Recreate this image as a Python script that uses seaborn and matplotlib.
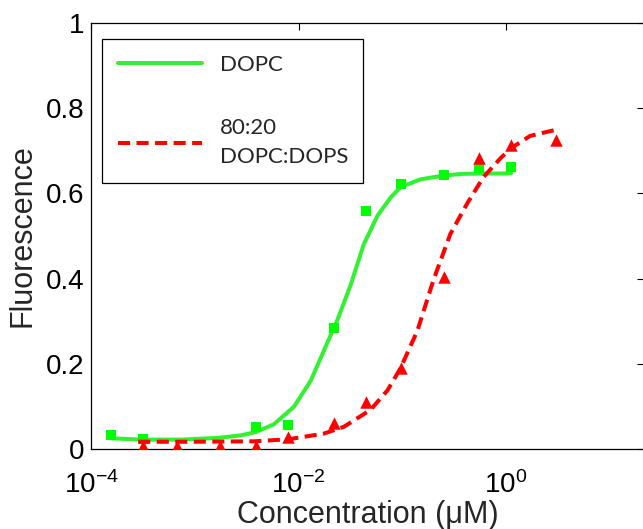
import numpy as np
import pandas as pd
import matplotlib
matplotlib.use("Agg")
import matplotlib.pyplot as plt
import seaborn as sns
from matplotlib.ticker import FixedLocator, NullLocator, LogFormatterSciNotation

# ---- data ----
dopc_conc = [1.57e-4, 3.16e-4, 3.86e-3, 8.0e-3, 0.0218, 0.0447, 0.0964, 0.251, 0.546, 1.12]
dopc_fluor = [0.034, 0.023, 0.052, 0.056, 0.283, 0.559, 0.621, 0.643, 0.659, 0.661]

dops_conc = [3.16e-4, 6.76e-4, 1.75e-3, 3.86e-3, 8.0e-3, 0.0218, 0.0447, 0.0964, 0.251, 0.546, 1.12, 3.04]
dops_fluor = [0.008, 0.008, 0.008, 0.008, 0.029, 0.061, 0.110, 0.190, 0.404, 0.683, 0.714, 0.725]

dopc_fit_conc = [1.57e-4, 3.11e-4, 7.38e-4, 1.67e-3, 2.79e-3, 3.89e-3, 5.79e-3, 9.02e-3, 0.0131,
                 0.0175, 0.0239, 0.0318, 0.0425, 0.0578, 0.0772, 0.0964, 0.150, 0.249, 0.389, 1.12]
dopc_fit_fluor = [0.025, 0.022, 0.022, 0.026, 0.032, 0.040, 0.058, 0.099, 0.160,
                  0.230, 0.305, 0.385, 0.480, 0.548, 0.590, 0.615, 0.633, 0.642, 0.646, 0.647]

dops_fit_conc = [2.85e-4, 9.2e-4, 3.72e-3, 8.07e-3, 0.0175, 0.0273, 0.0495, 0.0722, 0.0964,
                 0.140, 0.200, 0.291, 0.424, 0.605, 0.881, 1.10, 1.71, 2.98]
dops_fit_fluor = [0.017, 0.017, 0.018, 0.023, 0.036, 0.052, 0.092, 0.138, 0.190,
                  0.278, 0.397, 0.505, 0.577, 0.638, 0.682, 0.705, 0.735, 0.749]

series_labels = ["DOPC", "80:20\nDOPC:DOPS"]
x_ticks = [1e-4, 1e-2, 1e0, 1e2]
y_ticks = [0, 0.2, 0.4, 0.6, 0.8, 1]
y_tick_labels = ["0", "0.2", "0.4", "0.6", "0.8", "1"]

# ---- style ----
sns.set_style("white")
plt.rcParams["font.family"] = ["Liberation Sans", "DejaVu Sans"]
plt.rcParams["mathtext.default"] = "regular"

GREEN = "#00ff00"
GREEN_LINE = "#33f033"
RED = "#ff0000"

fig = plt.figure(figsize=(6.43, 5.29), dpi=100)
W, H = 643, 529
left_px, right_px, top_px, bottom_px = 91, 644, 23, 449
ax = fig.add_axes([left_px / W, 1 - bottom_px / H, (right_px - left_px) / W, (bottom_px - top_px) / H])

df_fit1 = pd.DataFrame({"c": dopc_fit_conc, "f": dopc_fit_fluor})
df_fit2 = pd.DataFrame({"c": dops_fit_conc, "f": dops_fit_fluor})
df_pts1 = pd.DataFrame({"c": dopc_conc, "f": dopc_fluor})
df_pts2 = pd.DataFrame({"c": dops_conc, "f": dops_fluor})

sns.lineplot(data=df_fit1, x="c", y="f", ax=ax, color=GREEN_LINE, linewidth=2.9,
             sort=True, estimator=None, zorder=2)
sns.scatterplot(data=df_pts1, x="c", y="f", ax=ax, color=GREEN, marker="s", s=60,
                linewidth=0, zorder=3)
sns.lineplot(data=df_fit2, x="c", y="f", ax=ax, color=RED, linewidth=2.9,
             linestyle=(0, (3.0, 1.6)), sort=True, estimator=None, zorder=4)
sns.scatterplot(data=df_pts2, x="c", y="f", ax=ax, color=RED, marker="^", s=80,
                linewidth=0, zorder=5)

ax.set_xscale("log")
ax.set_xlim(1e-4, 10 ** (-4 + (right_px - 89.7) / 104))
ax.set_ylim(0, 1)
ax.xaxis.set_major_locator(FixedLocator(x_ticks))
ax.xaxis.set_major_formatter(LogFormatterSciNotation())
ax.xaxis.set_minor_locator(NullLocator())
ax.set_yticks(y_ticks)
ax.set_yticklabels(y_tick_labels)

ax.tick_params(axis="both", which="major", direction="in", length=5, width=0.8,
               top=True, right=True, labelsize=20, colors="black", pad=5)
ax.tick_params(axis="x", pad=16)
for sp in ax.spines.values():
    sp.set_visible(True)
    sp.set_color("black")
    sp.set_linewidth(0.9)

ax.set_xlabel("Concentration (\u03bcM)", fontsize=22, labelpad=1)
ax.set_ylabel("Fluorescence", fontsize=22, labelpad=6)

# legend (lines only)
lines = ax.get_lines()
leg = ax.legend([lines[0], lines[1]], series_labels,
                loc="upper left", bbox_to_anchor=(0.0204, 0.0, 0.4714, 0.9617),
                mode="expand", borderaxespad=0, fancybox=False, framealpha=1,
                edgecolor="black", handlelength=3.8, handletextpad=0.78,
                borderpad=0.7, labelspacing=1.92,
                prop={"family": ["Lato", "DejaVu Sans"], "size": 16})
leg.get_frame().set_linewidth(0.9)
for t in leg.get_texts():
    t.set_linespacing(1.6)

fig.savefig("out.png", dpi=100)
